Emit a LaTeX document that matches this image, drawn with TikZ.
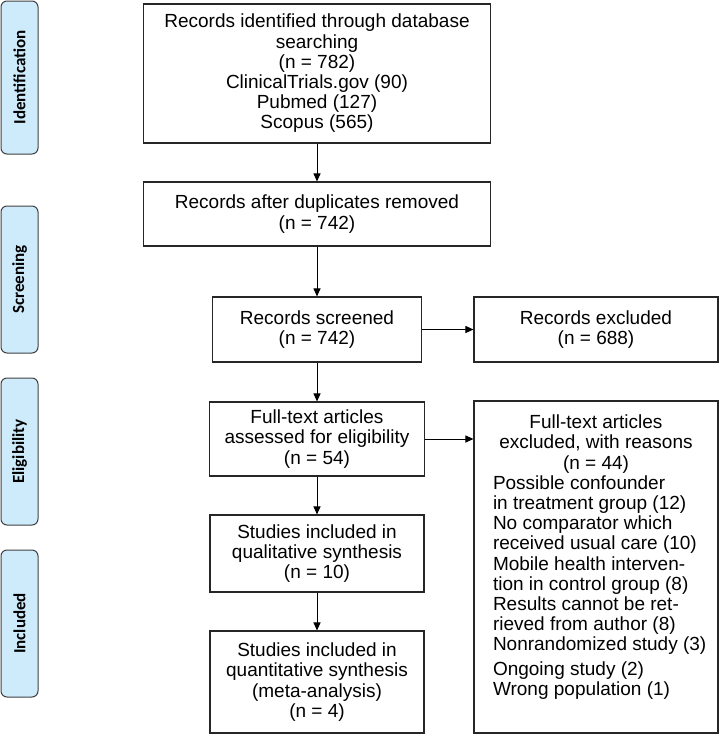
\documentclass[tikz,border=0pt]{standalone}
\usepackage{fontspec}
\setmainfont{Liberation Sans}
\newfontfamily\tabfont{Carlito}
\usetikzlibrary{arrows.meta}
\definecolor{tabblue}{HTML}{CDEBFB}
\tikzset{
  box/.style={draw=black!85, line width=1.1pt, fill=white, align=center, inner sep=0pt, font=\fontsize{19}{20.2}\selectfont},
  tab/.style={draw=black!75, line width=1pt, fill=tabblue, rounded corners=6pt, rotate=90, minimum width=147pt, minimum height=37pt, inner sep=0pt, font=\tabfont\bfseries\fontsize{17}{19}\selectfont},
  arrow/.style={draw=black, line width=1pt, -{Triangle[length=8pt,width=7pt]}}
}
\begin{document}
\begin{tikzpicture}[x=1pt,y=-1pt]
\useasboundingbox (0,0) rectangle (719,736);

\node[tab, minimum width=153pt] (tabid) at (19.5,77.5) {Identification};
\node[tab] (tabscr) at (19.5,279.5) {Screening};
\node[tab] (tabel) at (19.5,451.5) {Eligibility};
\node[tab] (tabinc) at (19.5,623.5) {Included};

\node[box, minimum width=347pt, minimum height=139pt] (ident) at (317,73.5) {Records identified through database\\ searching\\ (n = 782)\\ ClinicalTrials.gov (90)\\ Pubmed (127)\\ Scopus (565)};
\node[box, minimum width=347pt, minimum height=64pt] (dupl) at (317,214) {Records after duplicates removed\\ (n = 742)};
\node[box, minimum width=209pt, minimum height=65pt] (screen) at (317,329.5) {Records screened\\ (n = 742)};
\node[box, minimum width=244pt, minimum height=65pt] (excl) at (596,329.5) {Records excluded\\ (n = 688)};
\node[box, minimum width=215pt, minimum height=74pt] (assess) at (317,439) {Full-text articles\\ assessed for eligibility\\ (n = 54)};
\node[box, minimum width=244pt, minimum height=332pt, inner xsep=9pt] (ftexcl) at (596,567) {\parbox[c][304pt][t]{226pt}{\centering Full-text articles\\ excluded, with reasons\\ (n = 44)\par
\raggedright\leftskip=10pt Possible confounder\\ in treatment group (12)\\ No comparator which\\ received usual care (10)\\ Mobile health interven-\\ tion in control group (8)\\ Results cannot be ret-\\ rieved from author (8)\\ Nonrandomized study (3)\\[4pt] Ongoing study (2)\\ Wrong population (1)}};
\node[box, minimum width=214pt, minimum height=77pt] (qual) at (317,553.5) {Studies included in\\ qualitative synthesis\\ (n = 10)};
\node[box, minimum width=214pt, minimum height=102pt] (quant) at (317,682) {Studies included in\\ quantitative synthesis\\ (meta-analysis)\\ (n = 4)};

\draw[arrow] (ident) -- (dupl);
\draw[arrow] (dupl) -- (screen);
\draw[arrow] (screen) -- (excl);
\draw[arrow] (screen) -- (assess);
\draw[arrow] (assess.east) -- (assess.east -| ftexcl.west);
\draw[arrow] (assess) -- (qual);
\draw[arrow] (qual) -- (quant);
\end{tikzpicture}
\end{document}
